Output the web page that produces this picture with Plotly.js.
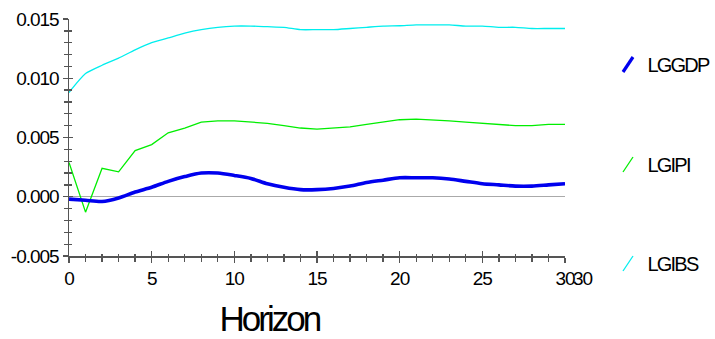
<!DOCTYPE html>
<html>
<head>
<meta charset="utf-8">
<script src="https://cdn.plot.ly/plotly-3.0.1.min.js"></script>
<style>
html,body{margin:0;padding:0;background:#fff;}
#chart{width:715px;height:339px;}
#chart g.annotation[data-index="0"] text{letter-spacing:-3px;}
#chart g.annotation[data-index="2"] text,
#chart g.annotation[data-index="3"] text,
#chart g.annotation[data-index="4"] text{letter-spacing:-1.8px;}
#chart .ytick text, #chart .xtick text, #chart g.annotation[data-index="1"] text{letter-spacing:-1px;}
</style>
</head>
<body>
<div id="chart"></div>
<script>
var horizon = [0,1,2,3,4,5,6,7,8,9,10,11,12,13,14,15,16,17,18,19,20,21,22,23,24,25,26,27,28,29,30];
var LGGDP = [-0.0002,-0.0003,-0.0004,-0.0001,0.0004,0.0008,0.0013,0.0017,0.0020,0.0020,0.0018,0.00155,0.0011,0.0008,0.0006,0.0006,0.0007,0.0009,0.0012,0.0014,0.0016,0.0016,0.0016,0.0015,0.0013,0.0011,0.0010,0.0009,0.0009,0.0010,0.0011];
var LGIPI = [0.0029,-0.0013,0.0024,0.0021,0.0039,0.0044,0.0054,0.0058,0.0063,0.0064,0.0064,0.0063,0.0062,0.0060,0.0058,0.0057,0.0058,0.0059,0.0061,0.0063,0.0065,0.00655,0.0065,0.0064,0.0063,0.0062,0.0061,0.0060,0.0060,0.0061,0.0061];
var LGIBS = [0.0088,0.0104,0.0111,0.0117,0.0124,0.0130,0.0134,0.0138,0.0141,0.0143,0.0144,0.0144,0.01435,0.0143,0.0141,0.0141,0.0141,0.0142,0.0143,0.0144,0.01443,0.0145,0.0145,0.0145,0.0144,0.0144,0.0143,0.0143,0.0142,0.0142,0.0142];
var seriesNames = ['LGGDP','LGIPI','LGIBS'];
var seriesColors = ['#0000ee','#00ee00','#00eeee'];
var yTickVals = [-0.005,0,0.005,0.010,0.015];
var yTickText = ['-0.005','0.000','0.005','0.010','0.015'];
var xTickVals = [0,5,10,15,20,25,30];
var xTickText = ['0','5','10','15','20','25','30'];

var tickFont = {family:'Liberation Sans, Arial, sans-serif', size:19, color:'#000'};
var labFont = 'Liberation Sans, Arial, sans-serif';

var traces = [
  {x:horizon, y:LGIBS, mode:'lines', line:{color:seriesColors[2], width:1.3, shape:'spline', smoothing:0.6}, name:seriesNames[2]},
  {x:horizon, y:LGIPI, mode:'lines', line:{color:seriesColors[1], width:1.3}, name:seriesNames[1]},
  {x:horizon, y:LGGDP, mode:'lines', line:{color:seriesColors[0], width:3.6, shape:'spline', smoothing:0.8}, name:seriesNames[0]},
  {x:[0,30], y:[-0.005,0.015], xaxis:'x2', yaxis:'y2', mode:'markers', marker:{opacity:0}, hoverinfo:'skip', showlegend:false}
];

var axisCommon = {showgrid:false, showline:true, linecolor:'#555', linewidth:1.5, tickcolor:'#555', tickwidth:1.3, ticks:'outside', ticklen:5};

var layout = {
  width:715, height:339,
  margin:{l:69, r:150, t:19, b:83},
  paper_bgcolor:'#fff', plot_bgcolor:'#fff',
  showlegend:false,
  xaxis: Object.assign({}, axisCommon, {range:[0,30], tickmode:'array', tickvals:xTickVals, ticktext:xTickText, tickfont:tickFont, zeroline:false,
    minor:{ticks:'outside', dtick:1, ticklen:4, tickcolor:'#555', tickwidth:1.3}}),
  yaxis: Object.assign({}, axisCommon, {range:[-0.005,0.015], tickmode:'array', tickvals:yTickVals, ticktext:yTickText, tickfont:tickFont,
    zeroline:true, zerolinecolor:'#aaaaaa', zerolinewidth:1,
    minor:{ticks:'outside', dtick:0.001, ticklen:4, tickcolor:'#555', tickwidth:1.3}}),
  xaxis2: {overlaying:'x', range:[0,30], showgrid:false, showline:false, zeroline:false, showticklabels:false, ticks:'inside', ticklen:5, tickcolor:'#555', tickwidth:1.3, dtick:5, side:'bottom',
    minor:{ticks:'inside', dtick:1, ticklen:2, tickcolor:'#555', tickwidth:1.3}},
  yaxis2: {overlaying:'y', range:[-0.005,0.015], showgrid:false, showline:false, zeroline:false, showticklabels:false, ticks:'inside', ticklen:4, tickcolor:'#555', tickwidth:1.3, dtick:0.005, side:'left',
    minor:{ticks:'inside', dtick:0.001, ticklen:3, tickcolor:'#555', tickwidth:1.3}},
  annotations: [
    {text:'Horizon', xref:'paper', yref:'paper', x:(220-69)/496, y:-(318-256)/237, xanchor:'left', yanchor:'middle', xshift:-13, showarrow:false, font:{family:labFont, size:35, color:'#000'}},
    {text:'30', xref:'x', yref:'paper', x:30, y:0, yanchor:'top', xanchor:'center', xshift:17, yshift:-10, showarrow:false, font:tickFont}
  ],
  shapes: []
};

var legendY = [65, 165, 264];
var legendWidths = [3.2, 1.3, 1.3];
for (var i = 0; i < 3; i++) {
  layout.annotations.push({text:seriesNames[i], xref:'paper', yref:'paper', x:(649-69)/496, y:(256-legendY[i])/237, xanchor:'left', yanchor:'middle', xshift:-8, showarrow:false, font:{family:labFont, size:20, color:'#000'}});
  layout.shapes.push({type:'line', xref:'paper', yref:'paper', x0:(623-69)/496, x1:(633-69)/496, y0:(256-legendY[i]-7)/237, y1:(256-legendY[i]+8)/237, line:{color:seriesColors[i], width:legendWidths[i]}});
}

Plotly.newPlot('chart', traces, layout, {displayModeBar:false, staticPlot:true});
</script>
</body>
</html>
